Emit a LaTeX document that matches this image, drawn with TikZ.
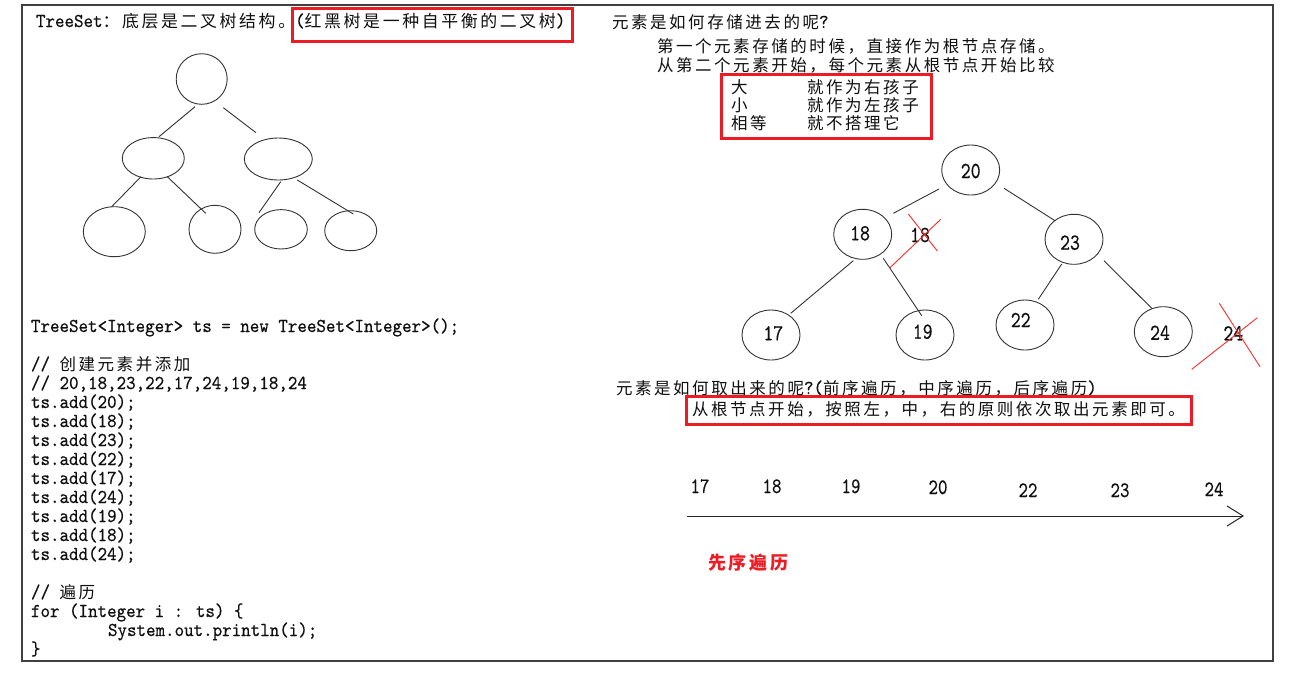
\documentclass[tikz,border=0pt]{standalone}
\usepackage{fontspec}
\setmainfont{lmmono10-regular.otf}[FakeStretch=0.92,FakeBold=0.4]
\newfontfamily\numf{lmmono10-regular.otf}[FakeStretch=0.82,FakeBold=0.4]
\newfontfamily\zhf{Noto Sans CJK SC}[LetterSpace=15.5]
\newcommand\zh[1]{{\zhf\fontsize{16.5}{19}\selectfont #1}}
\newcommand\zht[1]{{\zhf\fontsize{16.9}{19}\selectfont #1}}
\usetikzlibrary{shapes.geometric,calc,arrows.meta}
\definecolor{boxred}{RGB}{237,28,36}
\definecolor{xred}{RGB}{250,45,45}
\definecolor{ink}{RGB}{15,15,15}
\begin{document}
\begin{tikzpicture}[x=1pt,y=-1pt,
  txt/.style={anchor=base west, inner sep=0pt, outer sep=0pt, text=ink, font=\fontsize{19.7}{19}\selectfont},
  num/.style={anchor=center, inner sep=0pt, text=ink, font=\numf\fontsize{23}{23}\selectfont},
  bnum/.style={anchor=base, inner sep=0pt, text=ink, font=\numf\fontsize{22}{22}\selectfont},
  redbox/.style={draw=boxred, line width=2.7pt, anchor=north west, inner sep=0pt},
  oval/.style={draw=black!80, line width=0.9pt, ellipse, inner sep=0pt},
  rn/.style={oval, minimum width=58pt, minimum height=50pt},
  edge/.style={draw=black!80, line width=0.9pt},
  xline/.style={draw=xred, line width=0.9pt}]
\useasboundingbox (0,0) rectangle (1290,673);
\fill[white] (0,0) rectangle (1290,673);
% frame
\draw[black!75, line width=1.2pt] (22,5) rectangle (1273,661);

% ---------- title ----------
\node[txt] (title) at (36,27) {TreeSet\zht{：底层是二叉树结构。}(\zht{红黑树是一种自平衡的二叉树})};
\node[redbox, minimum width=280pt, minimum height=33pt] (box1) at (291,7) {};

% ---------- left tree ----------
\node[oval, minimum width=51pt, minimum height=50.6pt] (lr) at (201.7,79) {};
\node[oval, minimum width=62pt, minimum height=41.4pt] (la) at (153.3,158.3) {};
\node[oval, minimum width=68pt, minimum height=42pt] (lb) at (278.3,159) {};
\node[oval, minimum width=62pt, minimum height=50pt] (lc) at (114.3,231.7) {};
\node[oval, minimum width=52pt, minimum height=48pt] (ld) at (215,229.3) {};
\node[oval, minimum width=52.6pt, minimum height=39.4pt] (le) at (281,229.3) {};
\node[oval, minimum width=52pt, minimum height=40pt] (lf) at (350.7,230.7) {};
\draw[edge] ($(lr)+(-6.7,27.7)$) -- ($(la)+(5.7,-21.6)$);
\draw[edge] ($(lr)+(21.6,28.7)$) -- ($(lb)+(-22.3,-26.3)$);
\draw[edge] ($(la)+(-12.3,18.4)$) -- ($(lc)+(-2.6,-25)$);
\draw[edge] ($(la)+(14,18.4)$) -- ($(ld)+(-9.3,-16)$);
\draw[edge] ($(lb)+(2.4,22.7)$) -- ($(le)+(-22,-16.6)$);
\draw[edge] ($(lb)+(19,21)$) -- ($(lf)+(2.6,-16.7)$);

% ---------- code ----------
\node[txt] (c0) at (31,332) {TreeSet<Integer> ts = new TreeSet<Integer>();};
\node[txt] (c2) at (31,370) {// \zh{创建元素并添加}};
\node[txt] (c3) at (31,389) {// 20,18,23,22,17,24,19,18,24};
\node[txt] (c4) at (31,408) {ts.add(20);};
\node[txt] (c5) at (31,427) {ts.add(18);};
\node[txt] (c6) at (31,446) {ts.add(23);};
\node[txt] (c7) at (31,465) {ts.add(22);};
\node[txt] (c8) at (31,484) {ts.add(17);};
\node[txt] (c9) at (31,503) {ts.add(24);};
\node[txt] (c10) at (31,522) {ts.add(19);};
\node[txt] (c11) at (31,541) {ts.add(18);};
\node[txt] (c12) at (31,560) {ts.add(24);};
\node[txt] (c14) at (31,598) {// \zh{遍历}};
\node[txt] (c15) at (31,617) {for (Integer i : ts) \{};
\node[txt] (c16) at (108,636) {System.out.println(i);};
\node[txt] (c17) at (31,655) {\}};

% ---------- right: storing ----------
\node[txt] (q1) at (612,28) {\zh{元素是如何存储进去的呢}?};
\node[txt] (s1) at (657,52) {\zh{第一个元素存储的时候，直接作为根节点存储。}};
\node[txt] (s2) at (657,71) {\zh{从第二个元素开始，每个元素从根节点开始比较}};
\node[txt] (k1) at (731,93) {\zh{大}};
\node[txt] (v1) at (807,93) {\zh{就作为右孩子}};
\node[txt] (k2) at (731,111) {\zh{小}};
\node[txt] (v2) at (807,111) {\zh{就作为左孩子}};
\node[txt] (k3) at (731,129) {\zh{相等}};
\node[txt] (v3) at (807,129) {\zh{就不搭理它}};
\node[redbox, minimum width=210pt, minimum height=64pt] (box2) at (720,73) {};

% ---------- right tree ----------
\node[rn] (n20) at (970.7,170) {};
\node[rn] (n18) at (862.7,234.3) {};
\node[rn] (n23) at (1074,239.3) {};
\node[rn] (n17) at (771,335) {};
\node[rn] (n19) at (925,335) {};
\node[rn] (n22) at (1025,325) {};
\node[rn] (n24) at (1163.3,331.7) {};
\node[num] (t20) at (970.7,171) {20};
\node[num] (t18) at (860,233.3) {18};
\node[num] (t23) at (1070,242.7) {23};
\node[num] (t17) at (773.3,333.3) {17};
\node[num] (t19) at (922.7,331.7) {19};
\node[num] (t22) at (1020.7,320) {22};
\node[num] (t24) at (1160,332.7) {24};
\node[num] (x18) at (920,235) {18};
\node[num] (x24) at (1233.3,333.3) {24};
\draw[edge] ($(n20)+(-31.7,19)$) -- ($(n18)+(30.6,-21)$);
\draw[edge] ($(n20)+(33.3,18.3)$) -- ($(n23)+(-19,-18.6)$);
\draw[edge] ($(n18)+(-9.4,26.4)$) -- ($(n17)+(19.7,-21.7)$);
\draw[edge] ($(n18)+(20.6,24)$) -- ($(n19)+(-3.3,-19.3)$);
\draw[edge] ($(n23)+(-12.3,24.7)$) -- ($(n22)+(13.3,-25.7)$);
\draw[edge] ($(n23)+(30,21.4)$) -- ($(n24)+(-11.6,-23.4)$);
% red crosses
\draw[xline] ($(x18)+(-11.7,-21)$) -- ($(x18)+(17.3,16)$);
\draw[xline] ($(x18)+(20.7,-15.7)$) -- ($(x18)+(-30,32.7)$);
\draw[xline] ($(x24)+(-14,-30)$) -- ($(x24)+(26.7,33.4)$);
\draw[xline] ($(x24)+(24,-15.6)$) -- ($(x24)+(-41.6,36)$);

% ---------- right: traversal ----------
\node[txt] (q2) at (616,394) {\zh{元素是如何取出来的呢}?(\zh{前序遍历，中序遍历，后序遍历})};
\node[redbox, minimum width=505pt, minimum height=28pt] (box3) at (685,395) {};
\node[txt] (s3) at (692,415) {\zh{从根节点开始，按照左，中，右的原则依次取出元素即可。}};
\node[bnum] (o17) at (700,493) {17};
\node[bnum] (o18) at (772,493) {18};
\node[bnum] (o19) at (851,493) {19};
\node[bnum] (o20) at (938,494) {20};
\node[bnum] (o22) at (1028,497) {22};
\node[bnum] (o23) at (1120,497) {23};
\node[bnum] (o24) at (1214,496) {24};
\coordinate (as) at (687,516);
\coordinate (ae) at (1244,516);
\draw[black!85, line width=1pt, -{Straight Barb[length=16pt,width=20pt]}] (as) -- (ae);
\node[anchor=base west, inner sep=0pt, text=boxred] (pre) at (708,569) {{\zhf\bfseries\fontsize{18}{18}\selectfont 先序遍历}};
\end{tikzpicture}
\end{document}
